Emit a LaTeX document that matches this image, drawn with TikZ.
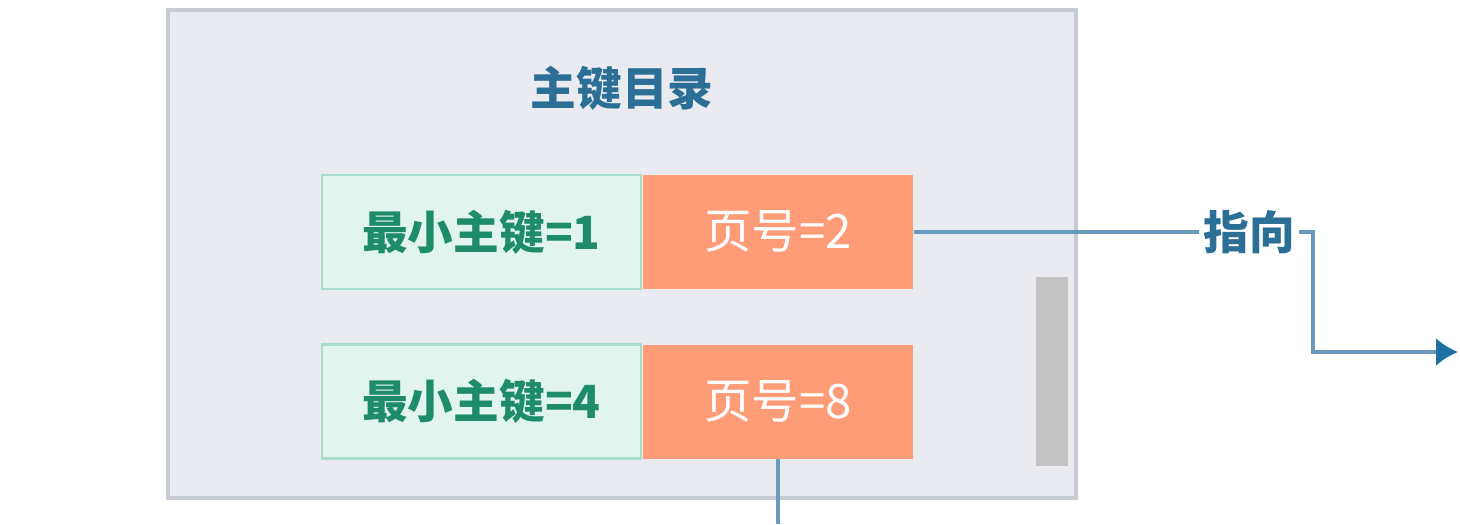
\documentclass[tikz,border=0pt]{standalone}
\usepackage{fontspec}
\usepackage{tikz}
\usetikzlibrary{positioning,arrows.meta}
\newfontfamily\cjk{Noto Sans CJK SC}
\definecolor{dirbg}{HTML}{E9EBF0}
\definecolor{dirline}{HTML}{C5CAD3}
\definecolor{keyfill}{HTML}{E1F5EE}
\definecolor{keyline}{HTML}{A9DECD}
\definecolor{keytext}{HTML}{1E8C6B}
\definecolor{pagefill}{HTML}{FF9C78}
\definecolor{titleblue}{HTML}{2B6E96}
\definecolor{linkblue}{HTML}{6A9BBE}
\definecolor{tipblue}{HTML}{1F6FA0}
\tikzset{
  keycell/.style={draw=keyline,line width=0.8pt,fill=keyfill,text=keytext,minimum width=3.19cm,minimum height=1.14cm,inner sep=0pt,font=\cjk\bfseries\fontsize{13}{15}\selectfont},
  pagecell/.style={fill=pagefill,text=white,minimum width=2.70cm,minimum height=1.14cm,inner sep=0pt,font=\cjk\fontsize{13.5}{15}\selectfont},
  link/.style={draw=linkblue,line width=1pt}
}
\begin{document}
\begin{tikzpicture}
\useasboundingbox (0,0) rectangle (14.6,5.24);
\node[draw=dirline,line width=1pt,fill=dirbg,minimum width=9.08cm,minimum height=4.88cm] (dir)at(6.22,2.70){};
\node[text=titleblue,font=\cjk\bfseries\fontsize{13}{15}\selectfont] (title)at(6.22,4.36){主键目录};
\node[keycell] (key1)at(4.815,2.92){最小主键=1};
\node[pagecell,right=0pt of key1] (page1){页号=2};
\node[keycell] (key2)at(4.815,1.225){最小主键=4};
\node[pagecell,right=0pt of key2] (page2){页号=8};
\node[fill=black!23,minimum width=0.32cm,minimum height=1.89cm,inner sep=0pt] (bar)at(10.52,1.525){};
\node[text=titleblue,font=\cjk\bfseries\fontsize{13}{15}\selectfont,inner sep=1pt] (ptr)at(12.49,2.92){指向};
\coordinate (bend)at(13.13,2.92);
\coordinate (tip)at(14.58,1.72);
\coordinate (down)at(7.78,0);
\draw[link] (page1.east) -- (ptr.west|-page1.east);
\draw[link,-{Latex[length=2.2mm,width=2.8mm,color=tipblue]}] (ptr.east|-bend) -- (bend) |- (tip);
\draw[link] (page2.south-|down) -- (down);
\end{tikzpicture}
\end{document}
